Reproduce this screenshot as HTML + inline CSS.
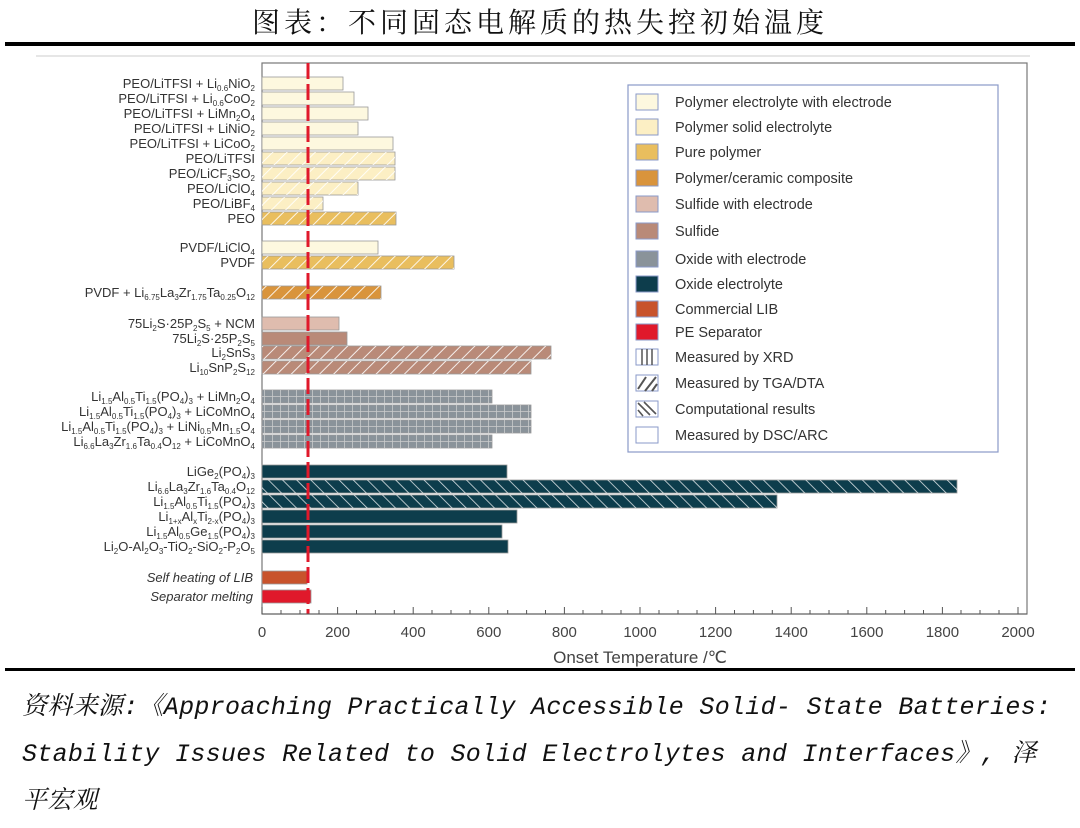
<!DOCTYPE html>
<html><head><meta charset="utf-8"><style>
body{margin:0;background:#fff;width:1080px;height:828px;overflow:hidden;position:relative}
.t{position:absolute;left:0;width:1080px;top:1px;text-align:center;font:28px "Noto Serif CJK SC","Liberation Serif",serif;color:#111;letter-spacing:4px}
.src{position:absolute;left:22px;font:italic 25px "Liberation Mono","Noto Serif CJK SC",monospace;color:#111;white-space:nowrap;letter-spacing:0.3px}
</style></head><body>
<div class="t">图表：不同固态电解质的热失控初始温度</div>
<div style="position:absolute;left:5px;top:42px;width:1070px;height:4px;background:#000"></div>
<div style="position:absolute;left:5px;top:668px;width:1070px;height:3px;background:#000"></div>
<div class="src" style="top:686px">资料来源:《Approaching Practically Accessible Solid- State Batteries:</div>
<div class="src" style="top:733px">Stability Issues Related to Solid Electrolytes and Interfaces》, 泽</div>
<div class="src" style="top:780px">平宏观</div>
<svg width="1080" height="668" style="position:absolute;left:0;top:0" font-family="Liberation Sans, sans-serif">
<defs>
<pattern id="f" patternUnits="userSpaceOnUse" width="10" height="10" patternTransform="rotate(45)"><line x1="0" y1="0" x2="0" y2="10" stroke="#fff" stroke-width="2" opacity=".85"/></pattern>
<pattern id="b" patternUnits="userSpaceOnUse" width="10" height="10" patternTransform="rotate(-45)"><line x1="0" y1="0" x2="0" y2="10" stroke="#fff" stroke-width="1.6" opacity=".85"/></pattern>
<pattern id="g" patternUnits="userSpaceOnUse" width="8" height="13" y="0"><line x1="0" y1="0" x2="0" y2="13" stroke="#ddd" stroke-width="1.2"/></pattern>
</defs>
<line x1="36" y1="56" x2="1030" y2="56" stroke="#ccc"/>
<rect x="262" y="63" width="765" height="551" fill="none" stroke="#777" stroke-width="1.2"/>
<g stroke="#999" stroke-width=".8">
<rect x="262" y="77" width="81" height="13" fill="#fdf8df"/>
<rect x="262" y="92" width="92" height="13" fill="#fdf8df"/>
<rect x="262" y="107" width="106" height="13" fill="#fdf8df"/>
<rect x="262" y="122" width="96" height="13" fill="#fdf8df"/>
<rect x="262" y="137" width="131" height="13" fill="#fdf8df"/>
<rect x="262" y="152" width="133" height="13" fill="#fcefc4"/><rect x="262" y="152" width="133" height="13" fill="url(#f)" stroke="none"/>
<rect x="262" y="167" width="133" height="13" fill="#fcefc4"/><rect x="262" y="167" width="133" height="13" fill="url(#f)" stroke="none"/>
<rect x="262" y="182" width="96" height="13" fill="#fcefc4"/><rect x="262" y="182" width="96" height="13" fill="url(#f)" stroke="none"/>
<rect x="262" y="197" width="61" height="13" fill="#fcefc4"/><rect x="262" y="197" width="61" height="13" fill="url(#f)" stroke="none"/>
<rect x="262" y="212" width="134" height="13" fill="#e9be5e"/><rect x="262" y="212" width="134" height="13" fill="url(#f)" stroke="none"/>
<rect x="262" y="241" width="116" height="13" fill="#fdf8df"/>
<rect x="262" y="256" width="192" height="13" fill="#e9be5e"/><rect x="262" y="256" width="192" height="13" fill="url(#f)" stroke="none"/>
<rect x="262" y="286" width="119" height="13" fill="#d9943c"/><rect x="262" y="286" width="119" height="13" fill="url(#f)" stroke="none"/>
<rect x="262" y="317" width="77" height="13" fill="#dfbcae"/>
<rect x="262" y="332" width="85" height="13" fill="#b98a78"/>
<rect x="262" y="346" width="289" height="13" fill="#b98a78"/><rect x="262" y="346" width="289" height="13" fill="url(#f)" stroke="none"/>
<rect x="262" y="361" width="269" height="13" fill="#b98a78"/><rect x="262" y="361" width="269" height="13" fill="url(#f)" stroke="none"/>
<rect x="262" y="390" width="230" height="13" fill="#8a939a"/><rect x="262" y="390" width="230" height="13" fill="url(#g)" stroke="none"/><line x1="262" y1="396.5" x2="492" y2="396.5" stroke="#ccc"/>
<rect x="262" y="405" width="269" height="13" fill="#8a939a"/><rect x="262" y="405" width="269" height="13" fill="url(#g)" stroke="none"/><line x1="262" y1="411.5" x2="531" y2="411.5" stroke="#ccc"/>
<rect x="262" y="420" width="269" height="13" fill="#8a939a"/><rect x="262" y="420" width="269" height="13" fill="url(#g)" stroke="none"/><line x1="262" y1="426.5" x2="531" y2="426.5" stroke="#ccc"/>
<rect x="262" y="435" width="230" height="13" fill="#8a939a"/><rect x="262" y="435" width="230" height="13" fill="url(#g)" stroke="none"/><line x1="262" y1="441.5" x2="492" y2="441.5" stroke="#ccc"/>
<rect x="262" y="465" width="245" height="13" fill="#0d3d4c"/>
<rect x="262" y="480" width="695" height="13" fill="#0d3d4c"/><rect x="262" y="480" width="695" height="13" fill="url(#b)" stroke="none"/>
<rect x="262" y="495" width="515" height="13" fill="#0d3d4c"/><rect x="262" y="495" width="515" height="13" fill="url(#b)" stroke="none"/>
<rect x="262" y="510" width="255" height="13" fill="#0d3d4c"/>
<rect x="262" y="525" width="240" height="13" fill="#0d3d4c"/>
<rect x="262" y="540" width="246" height="13" fill="#0d3d4c"/>
<rect x="262" y="571" width="45" height="13" fill="#c8532c"/>
<rect x="262" y="590" width="49" height="13" fill="#e0192b"/>
</g>
<line x1="308" y1="63" x2="308" y2="614" stroke="#e0192b" stroke-width="3" stroke-dasharray="16,5"/>
<g stroke="#555" stroke-width="1">
<line x1="262" y1="614" x2="1027" y2="614"/>
<path d="M262 614v-7M337.6 614v-7M413.2 614v-7M488.8 614v-7M564.4 614v-7M640 614v-7M715.6 614v-7M791.2 614v-7M866.8 614v-7M942.4 614v-7M1018 614v-7"/>
<path d="M281 614v-4M300 614v-4M319 614v-4M356.5 614v-4M375.4 614v-4M394.3 614v-4M432 614v-4M451 614v-4M470 614v-4M507.7 614v-4M526.6 614v-4M545.5 614v-4M583 614v-4M602 614v-4M621 614v-4M659 614v-4M678 614v-4M697 614v-4M734.5 614v-4M753.4 614v-4M772.3 614v-4M810 614v-4M829 614v-4M848 614v-4M885.7 614v-4M904.6 614v-4M923.5 614v-4M961 614v-4M980 614v-4M999 614v-4"/>
</g>
<g font-size="15" fill="#444" text-anchor="middle">
<text x="262" y="637">0</text><text x="337.6" y="637">200</text><text x="413.2" y="637">400</text><text x="488.8" y="637">600</text><text x="564.4" y="637">800</text><text x="640" y="637">1000</text><text x="715.6" y="637">1200</text><text x="791.2" y="637">1400</text><text x="866.8" y="637">1600</text><text x="942.4" y="637">1800</text><text x="1018" y="637">2000</text>
<text x="640" y="663" font-size="17">Onset Temperature /℃</text>
</g>
<g font-size="13" fill="#333" text-anchor="end">
<text x="255" y="88">PEO/LiTFSI + Li<tspan font-size="8" dy="3">0.6</tspan><tspan dy="-3">NiO</tspan><tspan font-size="8" dy="3">2</tspan></text>
<text x="255" y="103">PEO/LiTFSI + Li<tspan font-size="8" dy="3">0.6</tspan><tspan dy="-3">CoO</tspan><tspan font-size="8" dy="3">2</tspan></text>
<text x="255" y="118">PEO/LiTFSI + LiMn<tspan font-size="8" dy="3">2</tspan><tspan dy="-3">O</tspan><tspan font-size="8" dy="3">4</tspan></text>
<text x="255" y="133">PEO/LiTFSI + LiNiO<tspan font-size="8" dy="3">2</tspan></text>
<text x="255" y="148">PEO/LiTFSI + LiCoO<tspan font-size="8" dy="3">2</tspan></text>
<text x="255" y="163">PEO/LiTFSI</text>
<text x="255" y="178">PEO/LiCF<tspan font-size="8" dy="3">3</tspan><tspan dy="-3">SO</tspan><tspan font-size="8" dy="3">2</tspan></text>
<text x="255" y="193">PEO/LiClO<tspan font-size="8" dy="3">4</tspan></text>
<text x="255" y="208">PEO/LiBF<tspan font-size="8" dy="3">4</tspan></text>
<text x="255" y="223">PEO</text>
<text x="255" y="252">PVDF/LiClO<tspan font-size="8" dy="3">4</tspan></text>
<text x="255" y="267">PVDF</text>
<text x="255" y="297">PVDF + Li<tspan font-size="8" dy="3">6.75</tspan><tspan dy="-3">La</tspan><tspan font-size="8" dy="3">3</tspan><tspan dy="-3">Zr</tspan><tspan font-size="8" dy="3">1.75</tspan><tspan dy="-3">Ta</tspan><tspan font-size="8" dy="3">0.25</tspan><tspan dy="-3">O</tspan><tspan font-size="8" dy="3">12</tspan></text>
<text x="255" y="328">75Li<tspan font-size="8" dy="3">2</tspan><tspan dy="-3">S·25P</tspan><tspan font-size="8" dy="3">2</tspan><tspan dy="-3">S</tspan><tspan font-size="8" dy="3">5</tspan><tspan dy="-3"> + NCM</tspan></text>
<text x="255" y="343">75Li<tspan font-size="8" dy="3">2</tspan><tspan dy="-3">S·25P</tspan><tspan font-size="8" dy="3">2</tspan><tspan dy="-3">S</tspan><tspan font-size="8" dy="3">5</tspan></text>
<text x="255" y="357">Li<tspan font-size="8" dy="3">2</tspan><tspan dy="-3">SnS</tspan><tspan font-size="8" dy="3">3</tspan></text>
<text x="255" y="372">Li<tspan font-size="8" dy="3">10</tspan><tspan dy="-3">SnP</tspan><tspan font-size="8" dy="3">2</tspan><tspan dy="-3">S</tspan><tspan font-size="8" dy="3">12</tspan></text>
<text x="255" y="401">Li<tspan font-size="8" dy="3">1.5</tspan><tspan dy="-3">Al</tspan><tspan font-size="8" dy="3">0.5</tspan><tspan dy="-3">Ti</tspan><tspan font-size="8" dy="3">1.5</tspan><tspan dy="-3">(PO</tspan><tspan font-size="8" dy="3">4</tspan><tspan dy="-3">)</tspan><tspan font-size="8" dy="3">3</tspan><tspan dy="-3"> + LiMn</tspan><tspan font-size="8" dy="3">2</tspan><tspan dy="-3">O</tspan><tspan font-size="8" dy="3">4</tspan></text>
<text x="255" y="416">Li<tspan font-size="8" dy="3">1.5</tspan><tspan dy="-3">Al</tspan><tspan font-size="8" dy="3">0.5</tspan><tspan dy="-3">Ti</tspan><tspan font-size="8" dy="3">1.5</tspan><tspan dy="-3">(PO</tspan><tspan font-size="8" dy="3">4</tspan><tspan dy="-3">)</tspan><tspan font-size="8" dy="3">3</tspan><tspan dy="-3"> + LiCoMnO</tspan><tspan font-size="8" dy="3">4</tspan></text>
<text x="255" y="431">Li<tspan font-size="8" dy="3">1.5</tspan><tspan dy="-3">Al</tspan><tspan font-size="8" dy="3">0.5</tspan><tspan dy="-3">Ti</tspan><tspan font-size="8" dy="3">1.5</tspan><tspan dy="-3">(PO</tspan><tspan font-size="8" dy="3">4</tspan><tspan dy="-3">)</tspan><tspan font-size="8" dy="3">3</tspan><tspan dy="-3"> + LiNi</tspan><tspan font-size="8" dy="3">0.5</tspan><tspan dy="-3">Mn</tspan><tspan font-size="8" dy="3">1.5</tspan><tspan dy="-3">O</tspan><tspan font-size="8" dy="3">4</tspan></text>
<text x="255" y="446">Li<tspan font-size="8" dy="3">6.6</tspan><tspan dy="-3">La</tspan><tspan font-size="8" dy="3">3</tspan><tspan dy="-3">Zr</tspan><tspan font-size="8" dy="3">1.6</tspan><tspan dy="-3">Ta</tspan><tspan font-size="8" dy="3">0.4</tspan><tspan dy="-3">O</tspan><tspan font-size="8" dy="3">12</tspan><tspan dy="-3"> + LiCoMnO</tspan><tspan font-size="8" dy="3">4</tspan></text>
<text x="255" y="476">LiGe<tspan font-size="8" dy="3">2</tspan><tspan dy="-3">(PO</tspan><tspan font-size="8" dy="3">4</tspan><tspan dy="-3">)</tspan><tspan font-size="8" dy="3">3</tspan></text>
<text x="255" y="491">Li<tspan font-size="8" dy="3">6.6</tspan><tspan dy="-3">La</tspan><tspan font-size="8" dy="3">3</tspan><tspan dy="-3">Zr</tspan><tspan font-size="8" dy="3">1.6</tspan><tspan dy="-3">Ta</tspan><tspan font-size="8" dy="3">0.4</tspan><tspan dy="-3">O</tspan><tspan font-size="8" dy="3">12</tspan></text>
<text x="255" y="506">Li<tspan font-size="8" dy="3">1.5</tspan><tspan dy="-3">Al</tspan><tspan font-size="8" dy="3">0.5</tspan><tspan dy="-3">Ti</tspan><tspan font-size="8" dy="3">1.5</tspan><tspan dy="-3">(PO</tspan><tspan font-size="8" dy="3">4</tspan><tspan dy="-3">)</tspan><tspan font-size="8" dy="3">3</tspan></text>
<text x="255" y="521">Li<tspan font-size="8" dy="3">1+x</tspan><tspan dy="-3">Al</tspan><tspan font-size="8" dy="3">x</tspan><tspan dy="-3">Ti</tspan><tspan font-size="8" dy="3">2-x</tspan><tspan dy="-3">(PO</tspan><tspan font-size="8" dy="3">4</tspan><tspan dy="-3">)</tspan><tspan font-size="8" dy="3">3</tspan></text>
<text x="255" y="536">Li<tspan font-size="8" dy="3">1.5</tspan><tspan dy="-3">Al</tspan><tspan font-size="8" dy="3">0.5</tspan><tspan dy="-3">Ge</tspan><tspan font-size="8" dy="3">1.5</tspan><tspan dy="-3">(PO</tspan><tspan font-size="8" dy="3">4</tspan><tspan dy="-3">)</tspan><tspan font-size="8" dy="3">3</tspan></text>
<text x="255" y="551">Li<tspan font-size="8" dy="3">2</tspan><tspan dy="-3">O-Al</tspan><tspan font-size="8" dy="3">2</tspan><tspan dy="-3">O</tspan><tspan font-size="8" dy="3">3</tspan><tspan dy="-3">-TiO</tspan><tspan font-size="8" dy="3">2</tspan><tspan dy="-3">-SiO</tspan><tspan font-size="8" dy="3">2</tspan><tspan dy="-3">-P</tspan><tspan font-size="8" dy="3">2</tspan><tspan dy="-3">O</tspan><tspan font-size="8" dy="3">5</tspan></text>
<text x="253" y="582" font-style="italic">Self heating of LIB</text>
<text x="253" y="601" font-style="italic">Separator melting</text>
</g>
<rect x="628" y="85" width="370" height="367" fill="#fff" stroke="#8a9ac8" stroke-width="1.2"/>
<g stroke="#8a9ac8" stroke-width="1">
<rect x="636" y="94" width="22" height="16" fill="#fdf8df"/>
<rect x="636" y="119" width="22" height="16" fill="#fcefc4"/>
<rect x="636" y="144" width="22" height="16" fill="#e9be5e"/>
<rect x="636" y="170" width="22" height="16" fill="#d9943c"/>
<rect x="636" y="196" width="22" height="16" fill="#dfbcae"/>
<rect x="636" y="223" width="22" height="16" fill="#b98a78"/>
<rect x="636" y="251" width="22" height="16" fill="#8a939a"/>
<rect x="636" y="276" width="22" height="16" fill="#0d3d4c"/>
<rect x="636" y="301" width="22" height="16" fill="#c8532c"/>
<rect x="636" y="324" width="22" height="16" fill="#e0192b"/>
<rect x="636" y="349" width="22" height="16" fill="#fff"/>
<path d="M642 349v16M647 349v16M652 349v16" stroke="#555" stroke-width="1.5"/>
<rect x="636" y="375" width="22" height="16" fill="#fff"/>
<path d="M638 389l8-12M645 391l11-14M652 391l5-7" stroke="#555" stroke-width="2"/>
<rect x="636" y="401" width="22" height="16" fill="#fff"/>
<path d="M638 403l12 12M644 402l12 12M638 410l5 6" stroke="#555" stroke-width="1.6"/>
<rect x="636" y="427" width="22" height="16" fill="#fff"/>
</g>
<g font-size="14.5" fill="#333">
<text x="675" y="107">Polymer electrolyte with electrode</text>
<text x="675" y="132">Polymer solid electrolyte</text>
<text x="675" y="157">Pure polymer</text>
<text x="675" y="183">Polymer/ceramic composite</text>
<text x="675" y="209">Sulfide with electrode</text>
<text x="675" y="236">Sulfide</text>
<text x="675" y="264">Oxide with electrode</text>
<text x="675" y="289">Oxide electrolyte</text>
<text x="675" y="314">Commercial LIB</text>
<text x="675" y="337">PE Separator</text>
<text x="675" y="362">Measured by  XRD</text>
<text x="675" y="388">Measured by  TGA/DTA</text>
<text x="675" y="414">Computational results</text>
<text x="675" y="440">Measured by  DSC/ARC</text>
</g>
</svg>
</body></html>
